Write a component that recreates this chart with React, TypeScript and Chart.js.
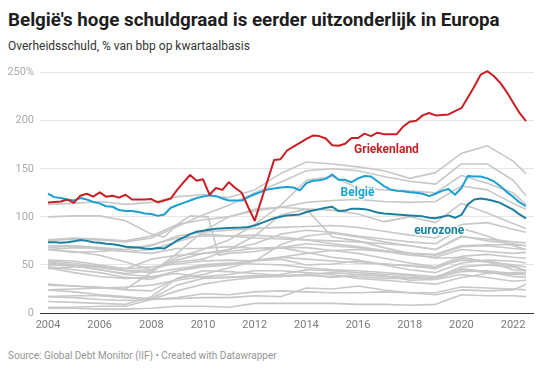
import { useEffect, useRef } from 'react';
import { Chart, registerables } from 'chart.js';

Chart.register(...registerables);

// ---------- DATA ----------
const YEARS = [2004, 2005, 2006, 2007, 2008, 2009, 2010, 2011, 2012, 2013, 2014, 2015, 2016, 2017, 2018, 2019, 2020, 2021, 2022, 2022.5];

const GREECE_X = [2004, 2004.5, 2004.75, 2005, 2005.25, 2005.5, 2005.75, 2006, 2006.25, 2006.5, 2006.75, 2007, 2007.25, 2007.5, 2007.75, 2008, 2008.25, 2008.5, 2008.75, 2009, 2009.25, 2009.5, 2009.75, 2010, 2010.25, 2010.5, 2010.75, 2011, 2011.25, 2011.5, 2011.75, 2012, 2012.75, 2013, 2013.25, 2013.5, 2013.75, 2014, 2014.25, 2014.5, 2014.75, 2015, 2015.25, 2015.5, 2015.75, 2016, 2016.25, 2016.5, 2016.75, 2017, 2017.25, 2017.5, 2017.75, 2018, 2018.25, 2018.5, 2018.75, 2019, 2019.25, 2019.5, 2019.75, 2020, 2020.25, 2020.5, 2020.75, 2021, 2021.25, 2021.5, 2021.75, 2022, 2022.25, 2022.5];
const GREECE_Y = [115, 116, 118, 114.5, 122, 124, 121, 125.5, 121, 122, 120, 123, 118, 118, 118, 118.5, 115, 117, 119, 128, 136, 143.5, 137.5, 139, 123, 130, 128, 136, 130, 125, 110, 96, 159, 160, 169, 173, 177, 181, 184.5, 184, 181.5, 174.5, 174, 176, 182, 182, 186.5, 184, 187.5, 186, 186, 186, 194, 199, 200, 205.5, 208, 205.5, 206, 206.5, 210, 213, 224, 235.5, 248, 251.5, 246.5, 239.5, 230, 219, 208, 199.5];

const BELGIUM_X = [2004, 2004.25, 2004.5, 2004.75, 2005, 2005.25, 2005.5, 2005.75, 2006, 2006.25, 2006.5, 2006.75, 2007, 2007.25, 2007.5, 2007.75, 2008, 2008.25, 2008.5, 2008.75, 2009, 2009.25, 2009.5, 2009.75, 2010, 2010.25, 2010.5, 2010.75, 2011, 2011.25, 2011.5, 2011.75, 2012, 2012.25, 2012.5, 2012.75, 2013, 2013.25, 2013.5, 2013.75, 2014, 2014.25, 2014.5, 2014.75, 2015, 2015.25, 2015.5, 2015.75, 2016, 2016.25, 2016.5, 2016.75, 2017, 2017.25, 2017.5, 2017.75, 2018, 2018.25, 2018.5, 2018.75, 2019, 2019.25, 2019.5, 2019.75, 2020, 2020.25, 2020.5, 2020.75, 2021, 2021.25, 2021.5, 2021.75, 2022, 2022.25, 2022.5];
const BELGIUM_Y = [124, 120.5, 119.5, 118, 117, 119.5, 118, 115.5, 114, 111, 110.5, 107, 106, 106, 105, 103.5, 103, 101, 102.5, 109.5, 112, 114.5, 117, 119.5, 121, 122.5, 121.5, 119, 117, 117, 117, 120.5, 123.5, 126, 128.5, 129.5, 130.5, 131, 130.5, 127.5, 135, 137.5, 138, 139.5, 144, 138.5, 138.5, 136, 140, 142.5, 142, 137, 132, 128.5, 127, 126.5, 125.5, 125, 124, 121.5, 124, 127, 129, 123, 130, 142.5, 142, 142, 140, 137, 132, 126, 121, 115, 111];

const EUROZONE_X = [2004, 2004.25, 2004.5, 2004.75, 2005, 2005.25, 2005.5, 2005.75, 2006, 2006.25, 2006.5, 2006.75, 2007, 2007.25, 2007.5, 2007.75, 2008, 2008.25, 2008.5, 2008.75, 2009, 2009.25, 2009.5, 2009.75, 2010, 2010.5, 2011, 2011.5, 2011.75, 2012, 2012.25, 2012.5, 2012.75, 2013, 2013.25, 2013.5, 2013.75, 2014, 2014.25, 2014.5, 2014.75, 2015, 2015.25, 2015.5, 2015.75, 2016, 2016.25, 2016.5, 2016.75, 2017, 2017.5, 2018, 2018.5, 2018.75, 2019, 2019.25, 2019.5, 2019.75, 2020, 2020.25, 2020.5, 2020.75, 2021, 2021.25, 2021.5, 2021.75, 2022, 2022.25, 2022.5];
const EUROZONE_Y = [73.5, 73.5, 73, 73.5, 74.5, 76, 75, 73.5, 73, 72, 71.5, 70.5, 69, 68.5, 68, 67, 66.5, 67.5, 67, 71, 75.5, 78.5, 82, 84.5, 85.5, 87.5, 88.5, 89, 89.5, 91, 93.5, 96, 98.5, 100, 101.5, 102, 102.5, 105, 106.5, 108, 109.5, 110.5, 106, 106.5, 108.5, 108.5, 108, 106.5, 104.5, 103.5, 102.5, 101.5, 100.5, 99, 98.5, 100, 101.5, 99, 102, 113, 118, 119, 118, 116.5, 114.5, 111, 107.5, 102.5, 98.5];

// other European countries (grey), values on YEARS
const GREY_A = [113, 114, 116, 113, 115, 121, 123, 120, 128, 145, 157, 155, 152, 148, 140, 146, 166, 174, 158, 145];
const GREY_B = [75, 77, 76, 74, 78, 90, 102, 112, 125, 136, 148, 150, 148, 142, 137, 134, 155, 155, 138, 122];
const GREY_C = [52, 49, 45, 41, 44, 58, 66, 76, 92, 112, 138, 142, 130, 128, 127, 125, 143, 135, 125, 113];
const GREY_D = [76, 78, 77, 75, 80, 92, 97, 100, 106, 110, 115, 117, 118, 116, 115, 116, 132, 128, 114, 108];
const GREY_E = [70, 70, 68, 66, 70, 80, 84, 86, 88, 89, 90, 91, 89, 85, 81, 78, 92, 94, 87, 84];
const GREY_F = [66, 68, 67, 64, 66, 74, 82, 80, 81, 79, 76, 72, 69, 65, 62, 60, 69, 70, 67, 66];
const GREY_G = [48, 45, 42, 37, 35, 44, 50, 51, 55, 58, 62, 65, 66, 64, 62, 61, 70, 71, 71, 70];
const GREY_H = [55, 54, 50, 46, 56, 60, 62, 64, 67, 68, 68, 65, 62, 57, 52, 48, 55, 53, 50, 48];
const GREY_I = [29, 28, 27, 24, 23, 36, 40, 47, 54, 71, 80, 83, 79, 74, 70, 66, 80, 75, 72, 70];
const GREY_J = [30, 28, 26, 25, 42, 62, 85, 100, 108, 110, 108, 79, 75, 68, 62, 57, 58, 53, 45, 44];
const GREY_K = [66, 64, 60, 53, 45, 53, 56, 66, 80, 102, 108, 107, 103, 95, 100, 94, 114, 104, 93, 88];
const GREY_L = [68, 70, 66, 64, 62, 67, 67, 69, 67, 68, 63, 58, 55, 50, 45, 42, 52, 55, 54, 52];
const GREY_M = [66, 63, 64, 66, 71, 78, 80, 80, 78, 77, 76, 75, 74, 72, 70, 66, 79, 77, 74, 73];
const GREY_O = [47, 42, 38, 36, 37, 44, 48, 50, 54, 58, 56, 54, 52, 51, 49, 48, 59, 61, 58, 57];
const GREY_P = [46, 48, 49, 46, 48, 51, 54, 55, 54, 56, 50, 51, 54, 51, 49, 46, 57, 54, 49, 44];
const GREY_Q = [53, 50, 47, 44, 45, 55, 62, 66, 72, 82, 86, 84, 80, 77, 74, 72, 88, 80, 70, 66];
const GREY_R = [50, 49, 45, 40, 38, 41, 37, 37, 38, 40, 45, 44, 42, 40, 39, 35, 40, 37, 33, 34];
const GREY_S = [54, 52, 48, 44, 42, 46, 50, 52, 51, 50, 47, 45, 44, 42, 40, 38, 45, 42, 40, 40];
const GREY_T = [24, 25, 26, 27, 29, 34, 38, 40, 44, 44, 42, 40, 36, 34, 32, 30, 37, 41, 42, 42];
const GREY_U = [17, 18, 18, 16, 15, 29, 36, 37, 39, 38, 40, 42, 40, 39, 34, 35, 46, 43, 38, 37];
const GREY_V = [12, 11, 10, 9, 17, 36, 44, 43, 41, 39, 40, 37, 40, 38, 37, 37, 43, 44, 41, 40];
const GREY_W = [17, 16, 14, 13, 14, 23, 30, 34, 37, 38, 39, 38, 38, 36, 36, 37, 48, 50, 48, 44];
const GREY_X = [24, 22, 19, 17, 14, 15, 16, 16, 18, 17, 26, 25, 28, 24, 21, 19, 24, 23, 24, 30];
const GREY_Y = [6, 6, 7, 7, 14, 16, 20, 19, 22, 23, 22, 21, 21, 22, 21, 21, 27, 26, 25, 24];
const GREY_Z = [5, 5, 4, 4, 5, 7, 7, 6, 10, 10, 10, 10, 9, 9, 8, 9, 19, 18, 18, 17];
const GREY_SPECIAL_X = [2004, 2005, 2006, 2007, 2008, 2008.5, 2009, 2009.5, 2010.2, 2010.6, 2011, 2012, 2013, 2014, 2015, 2016, 2017, 2018, 2019, 2020, 2021, 2022, 2022.5];
const GREY_SPECIAL_Y = [100, 101, 101, 96, 82, 79, 92, 101, 100, 60, 62, 64, 68, 72, 70, 68, 64, 60, 58, 66, 64, 62, 63];

const GREY_SERIES = [GREY_A, GREY_B, GREY_C, GREY_D, GREY_E, GREY_F, GREY_G, GREY_H, GREY_I, GREY_J, GREY_K, GREY_L, GREY_M, GREY_O, GREY_P, GREY_Q, GREY_R, GREY_S, GREY_T, GREY_U, GREY_V, GREY_W, GREY_X, GREY_Y, GREY_Z];

const X_TICKS = [2004, 2006, 2008, 2010, 2012, 2014, 2016, 2018, 2020, 2022];
const Y_TICKS = [0, 50, 100, 150, 200, 250];

const LABEL_TEXT = ['Griekenland', 'België', 'eurozone'];
const LABEL_X = [2017.1, 2015.98, 2019.14];
const LABEL_Y = [166.7, 121.9, 82.3];
const LABEL_COLOR = ['#c91f24', '#1aa0d2', '#1b7f9f'];

const RED = '#c91f24';
const BLUE = '#1aa0d2';
const TEAL = '#1b7f9f';
const GREY = '#c8c8c8';

const zip = (xs: number[], ys: number[]) => xs.map((x, i) => ({ x, y: ys[i] }));

const labelPlugin = {
  id: 'seriesLabels',
  afterDatasetsDraw(chart: any) {
    const { ctx, scales } = chart;
    ctx.save();
    ctx.font = 'bold 12px Roboto';
    ctx.textAlign = 'center';
    ctx.textBaseline = 'alphabetic';
    LABEL_TEXT.forEach((t, i) => {
      const px = scales.x.getPixelForValue(LABEL_X[i]);
      const py = scales.y.getPixelForValue(LABEL_Y[i]);
      ctx.lineWidth = 3;
      ctx.lineJoin = 'round';
      ctx.strokeStyle = '#ffffff';
      ctx.strokeText(t, px, py);
      ctx.fillStyle = LABEL_COLOR[i];
      ctx.fillText(t, px, py);
    });
    ctx.restore();
  },
};

export default function App() {
  const ref = useRef<HTMLCanvasElement | null>(null);

  useEffect(() => {
    if (!ref.current) return;
    Chart.defaults.font.family = 'Roboto';
    const datasets: any[] = [
      { data: zip(GREECE_X, GREECE_Y), borderColor: RED, borderWidth: 2, clip: false },
      { data: zip(BELGIUM_X, BELGIUM_Y), borderColor: BLUE, borderWidth: 2 },
      { data: zip(EUROZONE_X, EUROZONE_Y), borderColor: TEAL, borderWidth: 2 },
      ...GREY_SERIES.map((s) => ({ data: zip(YEARS, s), borderColor: GREY, borderWidth: 1.6 })),
      { data: zip(GREY_SPECIAL_X, GREY_SPECIAL_Y), borderColor: GREY, borderWidth: 1.6 },
    ].map((d) => ({ pointRadius: 0, tension: 0, borderJoinStyle: 'round', fill: false, ...d }));

    const chart = new Chart(ref.current, {
      type: 'line',
      data: { datasets },
      plugins: [labelPlugin],
      options: {
        animation: false,
        responsive: false,
        devicePixelRatio: 1,
        layout: { padding: { top: 10, right: 3, left: 0, bottom: 0 } },
        plugins: { legend: { display: false }, tooltip: { enabled: false }, title: { display: false } },
        scales: {
          x: {
            type: 'linear',
            min: 2003.69,
            max: 2022.81,
            grid: { display: false, drawTicks: false },
            border: { display: false },
            afterBuildTicks: (scale: any) => {
              scale.ticks = X_TICKS.map((v) => ({ value: v }));
            },
            afterFit: (scale: any) => {
              scale.height = 22;
            },
            ticks: {
              padding: 6,
              color: '#7a7a7a',
              font: { size: 11, family: 'Roboto' },
              maxRotation: 0,
              autoSkip: false,
              callback: (v: any) => String(v),
            },
          },
          y: {
            min: 0,
            max: 250,
            grid: {
              drawTicks: false,
              color: (c: any) => (c.tick && c.tick.value === 0 ? '#333333' : '#e6e6e6'),
              lineWidth: 1,
            },
            border: { display: false },
            afterBuildTicks: (scale: any) => {
              scale.ticks = Y_TICKS.map((v) => ({ value: v }));
            },
            afterFit: (scale: any) => {
              scale.width = 32;
            },
            ticks: {
              padding: 6,
              color: '#aaaaaa',
              font: { size: 11, family: 'Roboto' },
              callback: (v: any) => (v === 250 ? '250%' : String(v)),
            },
          },
        },
      },
    });
    return () => chart.destroy();
  }, []);

  return (
    <div style={{ position: 'relative', width: 529, height: 353, fontFamily: 'Roboto, sans-serif' }}>
      <div style={{ position: 'absolute', left: 0, top: 1, fontSize: 18.8, fontWeight: 700, lineHeight: '22px', color: '#1d1d1d', whiteSpace: 'nowrap' }}>
        België's hoge schuldgraad is eerder uitzonderlijk in Europa
      </div>
      <div style={{ position: 'absolute', left: 0, top: 30, fontSize: 12, lineHeight: '16px', color: '#333333', whiteSpace: 'nowrap' }}>
        Overheidsschuld, % van bbp op kwartaalbasis
      </div>
      <div style={{ position: 'absolute', left: 0, top: 52, width: 529, height: 275 }}>
        <canvas ref={ref} width={529} height={275} style={{ display: 'block' }} />
      </div>
      <div style={{ position: 'absolute', left: 0, top: 341, fontSize: 10, lineHeight: '13px', color: '#959595', whiteSpace: 'nowrap' }}>
        Source: Global Debt Monitor (IIF) • Created with Datawrapper
      </div>
    </div>
  );
}
